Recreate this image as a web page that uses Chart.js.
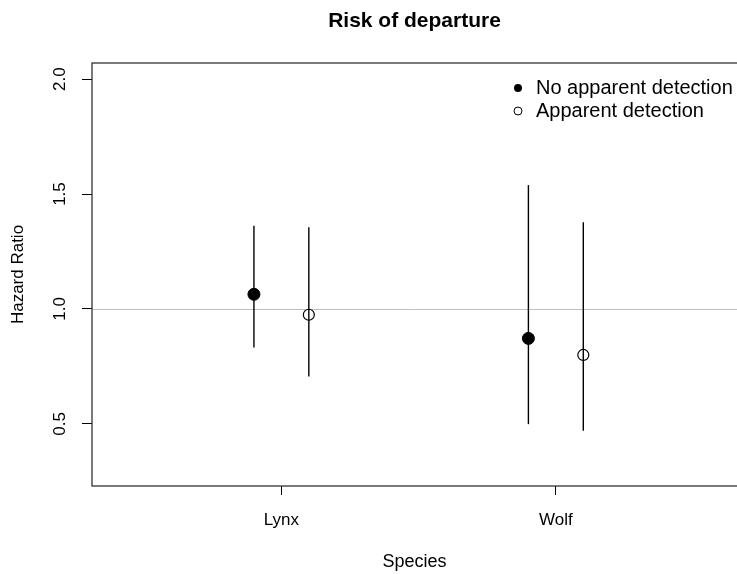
<!DOCTYPE html>
<html lang="en">

<head>
  <meta charset="UTF-8" />
  <title>Risk of departure</title>
  <script src="https://cdn.jsdelivr.net/npm/chart.js@4"></script>
</head>
<style>
  body {
    margin: 0;
    background: #fff;
    overflow: hidden;
  }
</style>

<body>
  <canvas id="myChart" width="737" height="574"></canvas>

  <script>
    // hazard ratios with confidence intervals
    const species = ['Lynx', 'Wolf'];
    const noDetectHR = [1.064, 0.872];
    const noDetectLo = [0.832, 0.499];
    const noDetectHi = [1.362, 1.539];
    const appDetectHR = [0.975, 0.800];
    const appDetectLo = [0.706, 0.470];
    const appDetectHi = [1.355, 1.377];
    const yTicks = [0.5, 1.0, 1.5, 2.0];
    const legendLabels = ['No apparent detection', 'Apparent detection'];
    const refValue = 1.0;
    const dodge = 0.1;

    Chart.defaults.font.family = "'Liberation Sans', Arial, sans-serif";
    Chart.defaults.color = '#000';

    const datasets = [];
    species.forEach((s, i) => {
      const x1 = i + 1 - dodge;
      const x2 = i + 1 + dodge;
      datasets.push({
        data: [{ x: x1, y: noDetectHR[i] }],
        pointRadius: 6, pointBackgroundColor: '#000', pointBorderColor: '#000', pointBorderWidth: 1, order: 0
      });
      datasets.push({
        data: [{ x: x2, y: appDetectHR[i] }],
        pointRadius: 5.5, pointBackgroundColor: 'rgba(0,0,0,0)', pointBorderColor: '#000', pointBorderWidth: 1.2, order: 0
      });
      datasets.push({
        data: [{ x: x1, y: noDetectLo[i] }, { x: x1, y: noDetectHi[i] }],
        showLine: true, pointRadius: 0, borderColor: '#000', borderWidth: 1.4, order: 1
      });
      datasets.push({
        data: [{ x: x2, y: appDetectLo[i] }, { x: x2, y: appDetectHi[i] }],
        showLine: true, pointRadius: 0, borderColor: '#000', borderWidth: 1.4, order: 1
      });
    });

    // reference line, box and legend like base R
    const extras = {
      id: 'extras',
      beforeDatasetsDraw(chart) {
        const { ctx, chartArea: a, scales: { y } } = chart;
        const py = Math.round(y.getPixelForValue(refValue)) + 0.5;
        ctx.save();
        ctx.strokeStyle = '#bebebe';
        ctx.lineWidth = 1;
        ctx.beginPath();
        ctx.moveTo(a.left, py);
        ctx.lineTo(a.right, py);
        ctx.stroke();
        ctx.restore();
      },
      afterDraw(chart) {
        const { ctx, chartArea: a } = chart;
        ctx.save();
        ctx.strokeStyle = '#333';
        ctx.lineWidth = 1.3;
        ctx.strokeRect(a.left, a.top, a.right - a.left + 5, a.bottom - a.top);

        ctx.font = "20px 'Liberation Sans', Arial, sans-serif";
        ctx.textBaseline = 'middle';
        ctx.fillStyle = '#000';
        legendLabels.forEach((lab, i) => {
          const ly = a.top + 25 + i * 23;
          ctx.beginPath();
          ctx.arc(a.right - 219, ly, 4, 0, Math.PI * 2);
          if (i === 0) {
            ctx.fill();
          } else {
            ctx.lineWidth = 1;
            ctx.strokeStyle = '#000';
            ctx.stroke();
          }
          ctx.fillText(lab, a.right - 201, ly);
        });
        ctx.restore();
      }
    };

    const ctx = document.getElementById('myChart').getContext('2d');
    const myChart = new Chart(ctx, {
      type: 'scatter',
      data: { datasets },
      plugins: [extras],
      options: {
        responsive: false,
        animation: false,
        layout: { padding: 0, autoPadding: false },
        plugins: {
          legend: { display: false },
          tooltip: { enabled: false },
          title: {
            display: true,
            text: 'Risk of departure',
            fullSize: false,
            color: '#000',
            font: { size: 21, weight: 'bold' },
            padding: { top: 8.4, bottom: 29.4 }
          }
        },
        scales: {
          x: {
            type: 'linear',
            min: 0.31,
            max: 2.66,
            afterFit: s => {
              s.height = 88;
              s.paddingLeft = 0;
              s.paddingRight = 0;
            },
            afterBuildTicks: s => { s.ticks = species.map((n, i) => ({ value: i + 1 })); },
            ticks: {
              font: { size: 17 },
              padding: 14.8,
              callback: v => species[v - 1]
            },
            grid: { drawOnChartArea: false, drawTicks: true, tickLength: 9, color: '#000' },
            border: { display: false },
            title: { display: true, text: 'Species', font: { size: 18 }, padding: { top: 0, bottom: 1.2 } }
          },
          y: {
            min: 0.23,
            max: 2.07,
            afterFit: s => {
              s.width = 92;
              s.paddingTop = 0;
              s.paddingBottom = 0;
            },
            afterBuildTicks: s => { s.ticks = yTicks.map(v => ({ value: v })); },
            ticks: {
              font: { size: 17 },
              minRotation: 90,
              maxRotation: 90,
              crossAlign: 'center',
              padding: 10.2,
              callback: v => v.toFixed(1)
            },
            grid: { drawOnChartArea: false, drawTicks: true, tickLength: 10, color: '#000' },
            border: { display: false },
            title: { display: true, text: 'Hazard Ratio', font: { size: 17 }, padding: { top: 7.8, bottom: 0 } }
          }
        }
      }
    });
  </script>
</body>

</html>
